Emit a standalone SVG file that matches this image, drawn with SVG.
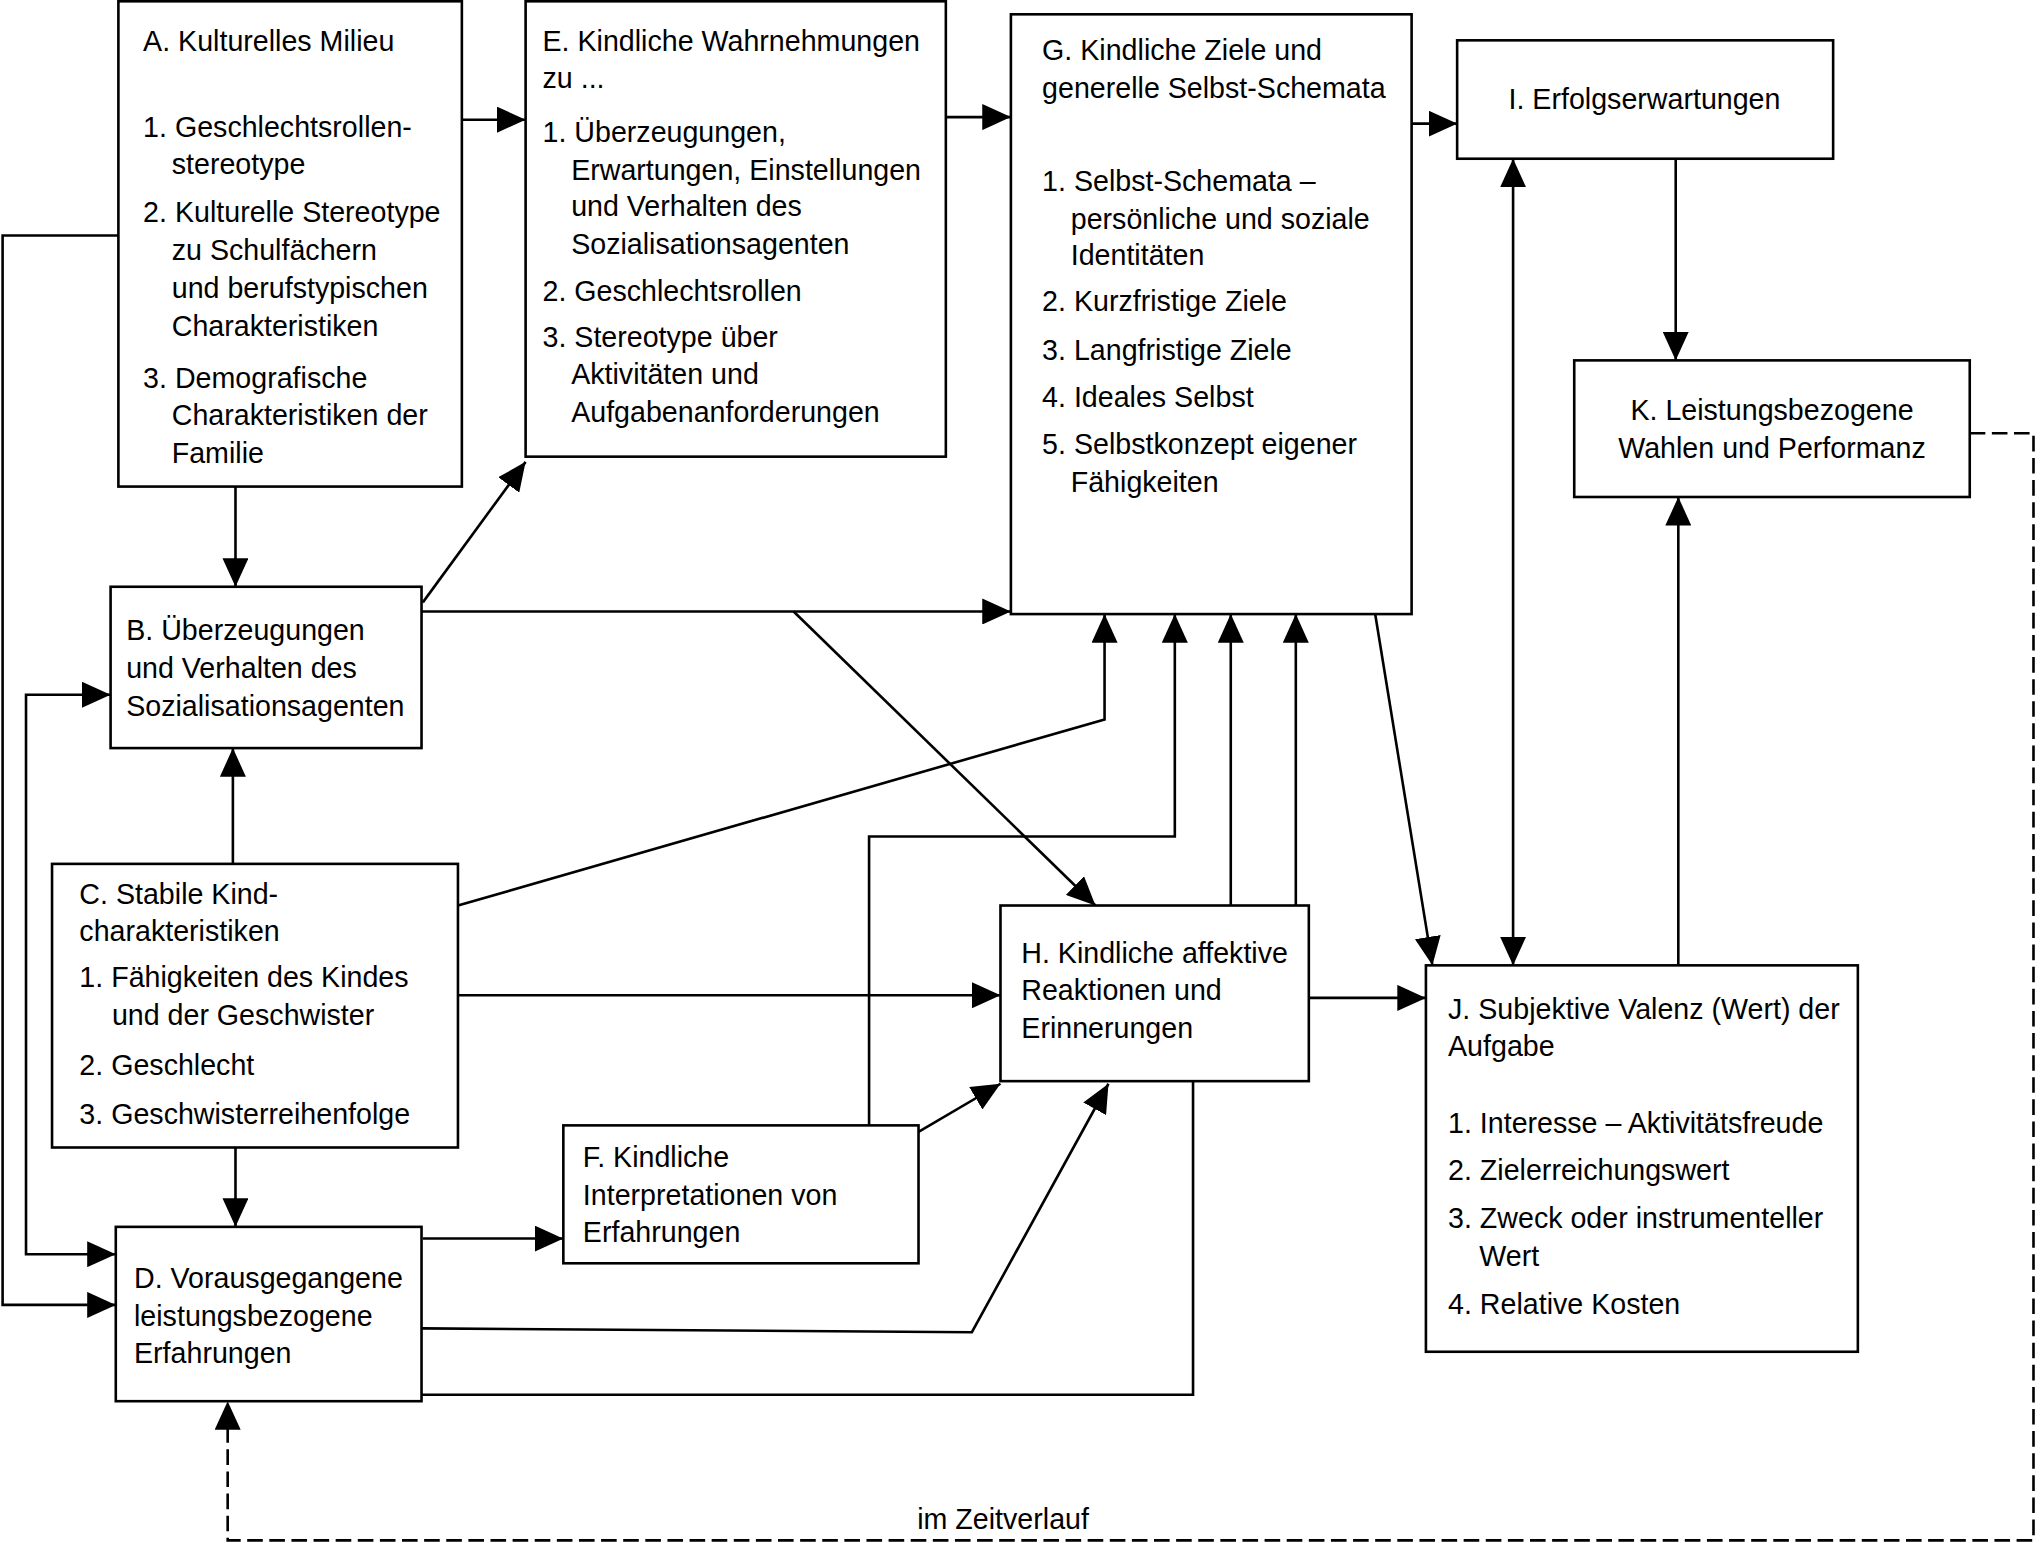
<svg xmlns="http://www.w3.org/2000/svg" width="2040" height="1543" viewBox="0 0 2040 1543">
<style>
.box{fill:#fff;stroke:#000;stroke-width:2}
.t{font-family:"Liberation Sans",Arial,sans-serif;font-size:22px;fill:#000}
.m{text-anchor:middle}
.c{fill:none;stroke:#000;stroke-width:2}
.a{marker-end:url(#ah)}
.d{stroke-dasharray:12 5}
</style>
<defs>
<marker id="ah" viewBox="0 0 22 20" refX="22" refY="10" markerWidth="22" markerHeight="20" markerUnits="userSpaceOnUse" orient="auto-start-reverse">
<path d="M0,0 L22,10 L0,20 Z" fill="#000"/>
</marker>
</defs>
<rect width="2040" height="1543" fill="#fff"/>
<g transform="scale(1.30102)">
<g id="connectors">
<path class="c a" d="M355,92 H404"/>
<path class="c a" d="M727,90 H777"/>
<path class="c a" d="M1085,95 H1120"/>
<path class="c a" d="M1288,122 V277"/>
<path class="c a" d="M1290,742 V382"/>
<path class="c a" d="M1163,742 V122" style="marker-start:url(#ah)"/>
<path class="c a d" d="M1514,333 H1563 V1184 H175 V1077"/>
<path class="c a" d="M181,374 V451"/>
<path class="c a" d="M325,463 L404,355"/>
<path class="c a" d="M324,470 H777"/>
<path class="c a" d="M610,470 L842,696"/>
<path class="c a" d="M179,664 V575"/>
<path class="c a" d="M91,181 H2 V1003 H89"/>
<path class="c a" d="M85,534 H20 V964 H89" style="marker-start:url(#ah)"/>
<path class="c a" d="M181,882 V943"/>
<path class="c a" d="M352,696 L849,553 V472"/>
<path class="c a" d="M352,765 H769"/>
<path class="c a" d="M325,952 H433"/>
<path class="c a" d="M324,1021 L747,1024 L852,833"/>
<path class="c" d="M324,1072 H917 V831"/>
<path class="c a" d="M706,870 L769,833"/>
<path class="c a" d="M668,865 V643 H903 V472"/>
<path class="c a" d="M946,696 V472"/>
<path class="c a" d="M996,696 V472"/>
<path class="c a" d="M1006,767 H1096"/>
<path class="c a" d="M1057,472 L1101,742"/>
<text class="t m" x="771" y="1175">im Zeitverlauf</text>
</g>
<g id="nodeA">
<rect class="box" x="91" y="1" width="264" height="373"/>
<text class="t" x="110" y="39">A. Kulturelles Milieu</text>
<text class="t" x="110" y="105">1. Geschlechtsrollen-</text>
<text class="t" x="132" y="134">stereotype</text>
<text class="t" x="110" y="171">2. Kulturelle Stereotype</text>
<text class="t" x="132" y="200">zu Schulfächern</text>
<text class="t" x="132" y="229">und berufstypischen</text>
<text class="t" x="132" y="258">Charakteristiken</text>
<text class="t" x="110" y="298">3. Demografische</text>
<text class="t" x="132" y="327">Charakteristiken der</text>
<text class="t" x="132" y="356">Familie</text>
</g>
<g id="nodeE">
<rect class="box" x="404" y="1" width="323" height="350"/>
<text class="t" x="417" y="39">E. Kindliche Wahrnehmungen</text>
<text class="t" x="417" y="68">zu ...</text>
<text class="t" x="417" y="109">1. Überzeugungen,</text>
<text class="t" x="439" y="138">Erwartungen, Einstellungen</text>
<text class="t" x="439" y="166">und Verhalten des</text>
<text class="t" x="439" y="195">Sozialisationsagenten</text>
<text class="t" x="417" y="231">2. Geschlechtsrollen</text>
<text class="t" x="417" y="267">3. Stereotype über</text>
<text class="t" x="439" y="295">Aktivitäten und</text>
<text class="t" x="439" y="324">Aufgabenanforderungen</text>
</g>
<g id="nodeG">
<rect class="box" x="777" y="11" width="308" height="461"/>
<text class="t" x="801" y="46">G. Kindliche Ziele und</text>
<text class="t" x="801" y="75">generelle Selbst-Schemata</text>
<text class="t" x="801" y="147">1. Selbst-Schemata –</text>
<text class="t" x="823" y="176">persönliche und soziale</text>
<text class="t" x="823" y="204">Identitäten</text>
<text class="t" x="801" y="239">2. Kurzfristige Ziele</text>
<text class="t" x="801" y="277">3. Langfristige Ziele</text>
<text class="t" x="801" y="313">4. Ideales Selbst</text>
<text class="t" x="801" y="349">5. Selbstkonzept eigener</text>
<text class="t" x="823" y="378">Fähigkeiten</text>
</g>
<g id="nodeI">
<rect class="box" x="1120" y="31" width="289" height="91"/>
<text class="t m" x="1264" y="84">I. Erfolgserwartungen</text>
</g>
<g id="nodeK">
<rect class="box" x="1210" y="277" width="304" height="105"/>
<text class="t m" x="1362" y="323">K. Leistungsbezogene</text>
<text class="t m" x="1362" y="352">Wahlen und Performanz</text>
</g>
<g id="nodeB">
<rect class="box" x="85" y="451" width="239" height="124"/>
<text class="t" x="97" y="492">B. Überzeugungen</text>
<text class="t" x="97" y="521">und Verhalten des</text>
<text class="t" x="97" y="550">Sozialisationsagenten</text>
</g>
<g id="nodeC">
<rect class="box" x="40" y="664" width="312" height="218"/>
<text class="t" x="61" y="695">C. Stabile Kind-</text>
<text class="t" x="61" y="723">charakteristiken</text>
<text class="t" x="61" y="759">1. Fähigkeiten des Kindes</text>
<text class="t" x="86" y="788">und der Geschwister</text>
<text class="t" x="61" y="826">2. Geschlecht</text>
<text class="t" x="61" y="864">3. Geschwisterreihenfolge</text>
</g>
<g id="nodeD">
<rect class="box" x="89" y="943" width="235" height="134"/>
<text class="t" x="103" y="990">D. Vorausgegangene</text>
<text class="t" x="103" y="1019">leistungsbezogene</text>
<text class="t" x="103" y="1048">Erfahrungen</text>
</g>
<g id="nodeF">
<rect class="box" x="433" y="865" width="273" height="106"/>
<text class="t" x="448" y="897">F. Kindliche</text>
<text class="t" x="448" y="926">Interpretationen von</text>
<text class="t" x="448" y="955">Erfahrungen</text>
</g>
<g id="nodeH">
<rect class="box" x="769" y="696" width="237" height="135"/>
<text class="t" x="785" y="740">H. Kindliche affektive</text>
<text class="t" x="785" y="769">Reaktionen und</text>
<text class="t" x="785" y="798">Erinnerungen</text>
</g>
<g id="nodeJ">
<rect class="box" x="1096" y="742" width="332" height="297"/>
<text class="t" x="1113" y="783">J. Subjektive Valenz (Wert) der</text>
<text class="t" x="1113" y="812">Aufgabe</text>
<text class="t" x="1113" y="871">1. Interesse – Aktivitätsfreude</text>
<text class="t" x="1113" y="907">2. Zielerreichungswert</text>
<text class="t" x="1113" y="944">3. Zweck oder instrumenteller</text>
<text class="t" x="1137" y="973">Wert</text>
<text class="t" x="1113" y="1010">4. Relative Kosten</text>
</g>
</g>
</svg>
